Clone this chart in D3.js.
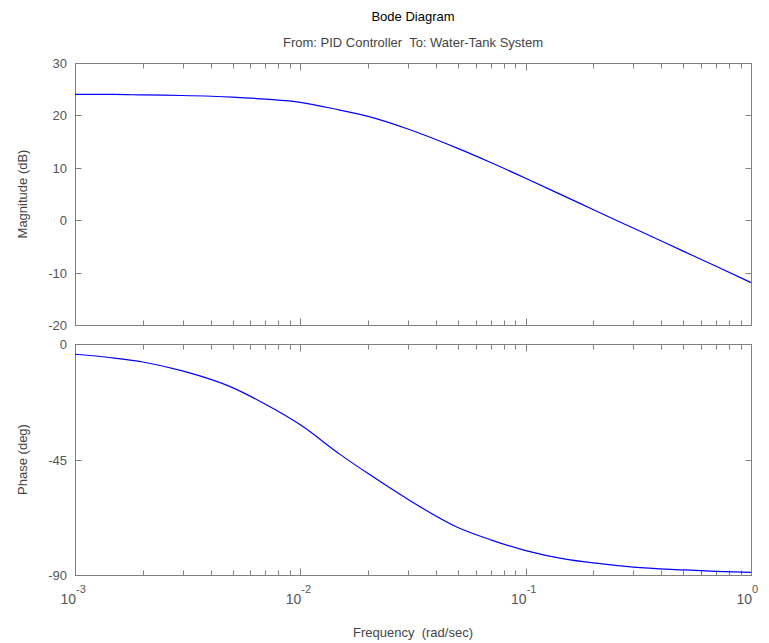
<!DOCTYPE html>
<html>
<head>
<meta charset="utf-8">
<script src="https://cdn.jsdelivr.net/npm/d3@7"></script>
<style>
  html, body { margin: 0; padding: 0; background: #fff; }
  svg { display: block; font-family: "Liberation Sans", Arial, sans-serif; }
  text { white-space: pre; }
</style>
</head>
<body>
<svg id="chart" width="769" height="643"></svg>
<script>
// ---- data ----
const frequencies = [0.001, 0.0015, 0.002, 0.003, 0.005, 0.007, 0.01, 0.015, 0.02, 0.03, 0.05, 0.07, 0.1, 0.15, 0.2, 0.3, 0.5, 0.7, 1.0];
const magnitudeDb = [24.0, 24.0, 23.9, 23.8, 23.5, 23.1, 22.5, 21.0, 19.8, 17.4, 13.7, 11.0, 8.0, 4.5, 2.0, -1.5, -5.9, -8.8, -11.9];
const phaseDeg    = [-4.0, -5.5, -7.0, -10.5, -17.0, -23.5, -31.5, -43.0, -50.5, -60.5, -71.5, -76.3, -80.5, -83.8, -85.3, -86.9, -88.0, -88.6, -89.0];
const magTicks = [-20, -10, 0, 10, 20, 30];
const phaseTicks = [-90, -45, 0];
const decadeExponents = [-3, -2, -1, 0];
const titleText = "Bode Diagram";
const subtitleText = "From: PID Controller  To: Water-Tank System";
const xLabelText = "Frequency  (rad/sec)";
const magLabelText = "Magnitude (dB)";
const phaseLabelText = "Phase (deg)";

// ---- layout ----
const svg = d3.select("#chart");
const left = 75, right = 751;
const magTop = 63, magBottom = 325;
const phTop = 344, phBottom = 575;
const axisColor = "#808080";
const textColor = "#444";

const x = d3.scaleLog().domain([1e-3, 1]).range([left, right]);
const yMag = d3.scaleLinear().domain([-20, 30]).range([magBottom, magTop]);
const yPh = d3.scaleLinear().domain([-90, 0]).range([phBottom, phTop]);

const minorTicks = [];
decadeExponents.slice(0, -1).forEach(e => {
  for (let k = 2; k <= 9; k++) minorTicks.push(k * Math.pow(10, e));
});
const majorTicks = decadeExponents.map(e => Math.pow(10, e));

function panel(yScale, yTicks, top, bottom, values, label) {
  const g = svg.append("g");
  g.append("rect").attr("x", left + 0.5).attr("y", top + 0.5)
    .attr("width", right - left).attr("height", bottom - top)
    .attr("fill", "none").attr("stroke", axisColor).attr("stroke-width", 1);

  const tickSpec = [...minorTicks.map(v => ({v, len: 5})), ...majorTicks.map(v => ({v, len: 7}))];
  tickSpec.forEach(t => {
    const px = Math.round(x(t.v)) + 0.5;
    g.append("line").attr("x1", px).attr("x2", px).attr("y1", bottom + 0.5).attr("y2", bottom + 0.5 - t.len)
      .attr("stroke", axisColor);
    g.append("line").attr("x1", px).attr("x2", px).attr("y1", top + 0.5).attr("y2", top + 0.5 + t.len)
      .attr("stroke", axisColor);
  });

  yTicks.forEach(v => {
    const py = Math.round(yScale(v)) + 0.5;
    g.append("line").attr("x1", left + 0.5).attr("x2", left + 0.5 + 6).attr("y1", py).attr("y2", py).attr("stroke", axisColor);
    g.append("line").attr("x1", right + 0.5).attr("x2", right + 0.5 - 6).attr("y1", py).attr("y2", py).attr("stroke", axisColor);
    g.append("text").attr("x", left - 8).attr("y", py + 4.5)
      .attr("text-anchor", "end").attr("font-size", 13).attr("fill", "#555").text(v);
  });

  const line = d3.line().x((d, i) => x(frequencies[i])).y(d => yScale(d)).curve(d3.curveMonotoneX);
  g.append("path").datum(values).attr("d", line)
    .attr("fill", "none").attr("stroke", "#0000ff").attr("stroke-width", 1.2);

  g.append("text")
    .attr("transform", `translate(27,${(top + bottom) / 2}) rotate(-90)`)
    .attr("text-anchor", "middle").attr("font-size", 13).attr("fill", textColor).text(label);
}

panel(yMag, magTicks, magTop, magBottom, magnitudeDb, magLabelText);
panel(yPh, phaseTicks, phTop, phBottom, phaseDeg, phaseLabelText);

decadeExponents.forEach(e => {
  const px = x(Math.pow(10, e));
  svg.append("text").attr("x", px + 1).attr("y", 604).attr("text-anchor", "end")
    .attr("font-size", 14).attr("fill", "#555").text("10");
  svg.append("text").attr("x", px + 1).attr("y", 593).attr("text-anchor", "start")
    .attr("font-size", 11).attr("fill", "#555").text(e);
});

svg.append("text").attr("x", (left + right) / 2).attr("y", 21).attr("text-anchor", "middle")
  .attr("font-size", 13).attr("fill", "#000").text(titleText);
svg.append("text").attr("x", (left + right) / 2).attr("y", 47).attr("text-anchor", "middle")
  .attr("font-size", 13).attr("fill", textColor).text(subtitleText);
svg.append("text").attr("x", (left + right) / 2).attr("y", 637).attr("text-anchor", "middle")
  .attr("font-size", 13).attr("fill", textColor).text(xLabelText);
</script>
</body>
</html>
